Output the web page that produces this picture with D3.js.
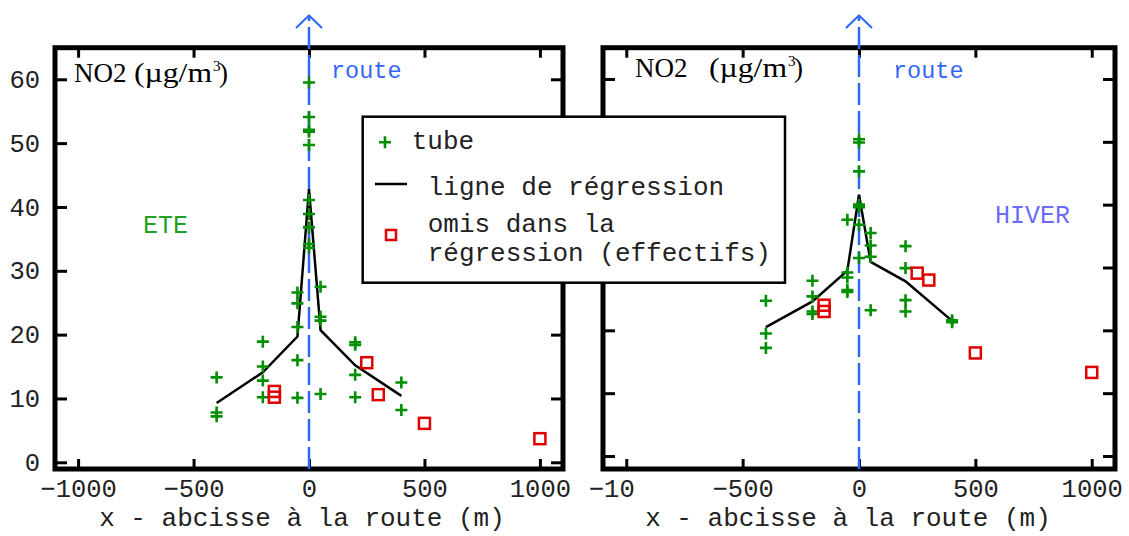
<!DOCTYPE html>
<html>
<head>
<meta charset="utf-8">
<script src="https://cdn.jsdelivr.net/npm/d3@7"></script>
<style>
  body { margin: 0; background: #fff; }
  svg { display: block; }
  text { font-family: "Liberation Mono", "Courier New", monospace; fill: #222; }
</style>
</head>
<body>
<div id="chart"></div>
<script>
const width = 1129
const height = 536

const xTicks = [-1000, -500, 0, 500, 1000]
const yTicks = [0, 10, 20, 30, 40, 50, 60]

// ETE : [x (m), NO2]
const eteTubes = [
  [-400, 13.3], [-400, 7.8], [-400, 7.2],
  [-200, 18.9], [-200, 15.0], [-200, 12.8], [-200, 10.2],
  [-50, 26.6], [-50, 24.9], [-50, 21.2], [-50, 16.0], [-50, 10.1],
  [0, 59.5], [0, 54.1], [0, 52.1], [0, 51.8], [0, 49.7], [0, 41.1], [0, 38.9], [0, 36.8], [0, 34.2], [0, 33.6],
  [50, 27.5], [50, 22.8], [50, 22.2], [50, 10.7],
  [200, 18.8], [200, 18.4], [200, 13.7], [200, 10.2],
  [400, 12.5], [400, 8.2]
]
const eteOmis = [[-150, 11.1], [-150, 10.2], [250, 15.6], [300, 10.6], [500, 6.1], [1000, 3.7]]
const eteRegression = [[-400, 9.3], [-200, 14.1], [-50, 19.7], [0, 42.8], [50, 20.7], [200, 15.2], [400, 10.4]]

// HIVER
const hiverTubes = [
  [-400, 24.7], [-400, 19.5], [-400, 17.2],
  [-200, 27.9], [-200, 25.4], [-200, 23.0], [-200, 22.6],
  [-50, 37.6], [-50, 29.2], [-50, 28.4], [-50, 26.4], [-50, 26.1],
  [0, 50.4], [0, 49.9], [0, 45.3], [0, 40.0], [0, 39.6], [0, 36.8], [0, 31.5],
  [50, 35.5], [50, 33.5], [50, 31.7], [50, 23.2],
  [200, 33.4], [200, 29.9], [200, 24.8], [200, 23.0],
  [400, 21.6], [400, 21.3]
]
const hiverOmis = [[-150, 24.0], [-150, 23.0], [250, 29.1], [300, 28.0], [500, 16.4], [1000, 13.3]]
const hiverRegression = [[-400, 20.5], [-200, 24.6], [-50, 29.5], [0, 41.6], [50, 30.9], [200, 27.8], [400, 21.5]]

const legendLabels = ["tube", "ligne de régression", "omis dans la", "régression (effectifs)"]
const xTitle = "x - abcisse à la route (m)"

const green = "#008f00"
const red = "#e00000"
const blue = "#3366ff"

const panels = [
  { season: "ETE", seasonColor: "#22a022", seasonX: 143, seasonY: 233,
    tubes: eteTubes, omis: eteOmis, reg: eteRegression,
    left: 55, right: 563, yDomain: [-1.05, 64.95], yLabels: true,
    titleX: 302, unitX: 74, unitY: 82, parenX: 134, routeX: 331 },
  { season: "HIVER", seasonColor: "#6a6aff", seasonX: 995, seasonY: 223,
    tubes: hiverTubes, omis: hiverOmis, reg: hiverRegression,
    left: 603, right: 1115, yDomain: [-2.07, 64.98], yLabels: false,
    titleX: 848, unitX: 635, unitY: 77, parenX: 709, routeX: 893 }
]
const frameTop = 47.7, frameBottom = 469

const svg = d3.select("#chart")
  .append("svg")
  .attr("width", width)
  .attr("height", height)

panels.forEach((p, i) => {
  const x = d3.scaleLinear().domain([-1100, 1100]).range([p.left, p.right])
  const y = d3.scaleLinear().domain(p.yDomain).range([frameBottom, frameTop])
  const g = svg.append("g")

  // axes, ticks pointing inward
  const fmt = d => d3.format("d")(d).replace("-", "−")
  const xb = g.append("g").attr("transform", `translate(0,${frameBottom})`)
    .call(d3.axisBottom(x).tickValues(xTicks).tickSizeInner(-10).tickSizeOuter(0).tickFormat(fmt))
  xb.selectAll("text").attr("y", 28).attr("dy", 0).style("font-size", "25.5px")
    .style("font-family", "Liberation Mono")
  if (i === 1) {
    // the first label is cut off in the original
    xb.selectAll("text").filter(d => d === -1000)
      .text("−10").attr("text-anchor", "start").attr("dx", -38)
  }
  g.append("g").attr("transform", `translate(0,${frameTop})`)
    .call(d3.axisTop(x).tickValues(xTicks).tickSizeInner(-10).tickSizeOuter(0).tickFormat(""))
  const yl = g.append("g").attr("transform", `translate(${p.left},0)`)
    .call(d3.axisLeft(y).tickValues(yTicks).tickSizeInner(-12).tickSizeOuter(0)
      .tickPadding(15).tickFormat(p.yLabels ? d3.format("d") : ""))
  yl.selectAll("text").style("font-size", "25.5px").style("font-family", "Liberation Mono")
  g.append("g").attr("transform", `translate(${p.right},0)`)
    .call(d3.axisRight(y).tickValues(yTicks).tickSizeInner(-12).tickSizeOuter(0).tickFormat(""))
  g.selectAll(".domain").remove()
  g.selectAll(".tick line").attr("stroke", "#000").attr("stroke-width", 3)

  g.append("rect")
    .attr("x", p.left).attr("y", frameTop)
    .attr("width", p.right - p.left).attr("height", frameBottom - frameTop)
    .attr("fill", "none").attr("stroke", "#000").attr("stroke-width", 5)

  // road: dashed line with arrow
  g.append("line")
    .attr("x1", x(0)).attr("x2", x(0))
    .attr("y1", frameBottom).attr("y2", 17)
    .attr("stroke", blue).attr("stroke-width", 2.5)
    .attr("stroke-dasharray", "22,6")
  g.append("path")
    .attr("d", `M${x(0) - 13},28L${x(0)},15.5L${x(0) + 13},28`)
    .attr("fill", "none").attr("stroke", blue).attr("stroke-width", 2)

  // regression line
  const lineFunc = d3.line().x(d => x(d[0])).y(d => y(d[1]))
  g.append("path")
    .attr("d", lineFunc(p.reg))
    .attr("fill", "none").attr("stroke", "#000").attr("stroke-width", 2.5)

  // tubes
  g.selectAll("path.tube")
    .data(p.tubes)
    .join("path")
    .attr("class", "tube")
    .attr("d", d => `M${x(d[0]) - 6},${y(d[1])}h12M${x(d[0])},${y(d[1]) - 6}v12`)
    .attr("stroke", green).attr("stroke-width", 2.6)

  // omitted points
  g.selectAll("rect.omis")
    .data(p.omis)
    .join("rect")
    .attr("class", "omis")
    .attr("x", d => x(d[0]) - 5.5).attr("y", d => y(d[1]) - 5.5)
    .attr("width", 11).attr("height", 11)
    .attr("fill", "none").attr("stroke", red).attr("stroke-width", 2.5)

  // texts
  g.append("text").attr("x", p.seasonX).attr("y", p.seasonY)
    .style("font-size", "25px").style("fill", p.seasonColor).text(p.season)
  g.append("text").attr("x", p.routeX).attr("y", 78)
    .style("font-size", "23.5px").style("fill", blue).text("route")
  g.append("text").attr("x", p.titleX).attr("y", 526)
    .attr("text-anchor", "middle").style("font-size", "26px").text(xTitle)

  const unit = g.append("text").attr("y", p.unitY)
    .style("font-family", "Liberation Serif").style("font-size", "27px").style("fill", "#000")
  unit.append("tspan").attr("x", p.unitX).text("NO2")
  unit.append("tspan").attr("x", p.parenX).attr("textLength", 78).attr("lengthAdjust", "spacingAndGlyphs").text("(µg/m")
  unit.append("tspan").attr("x", p.parenX + 79).attr("dy", -11).style("font-size", "15px").text("3")
  unit.append("tspan").attr("x", p.parenX + 85).attr("dy", 11).text(")")
})

// legend
const lg = svg.append("g")
lg.append("rect")
  .attr("x", 362.7).attr("y", 116.7).attr("width", 422.3).attr("height", 166)
  .attr("fill", "#fff").attr("stroke", "#000").attr("stroke-width", 2.5)
lg.append("path").attr("d", "M379,142.3h12M385,136.3v12")
  .attr("stroke", green).attr("stroke-width", 2.6)
lg.append("line").attr("x1", 375).attr("x2", 407).attr("y1", 184).attr("y2", 184)
  .attr("stroke", "#000").attr("stroke-width", 2.5)
lg.append("rect").attr("x", 386).attr("y", 230).attr("width", 10).attr("height", 10)
  .attr("fill", "none").attr("stroke", red).attr("stroke-width", 2.5)
const legendPos = [[411.7, 149], [427.7, 195], [427.7, 232], [427.7, 261]]
lg.selectAll("text")
  .data(legendLabels)
  .join("text")
  .attr("x", (d, i) => legendPos[i][0])
  .attr("y", (d, i) => legendPos[i][1])
  .style("font-size", "26px")
  .text(d => d)
</script>
</body>
</html>
